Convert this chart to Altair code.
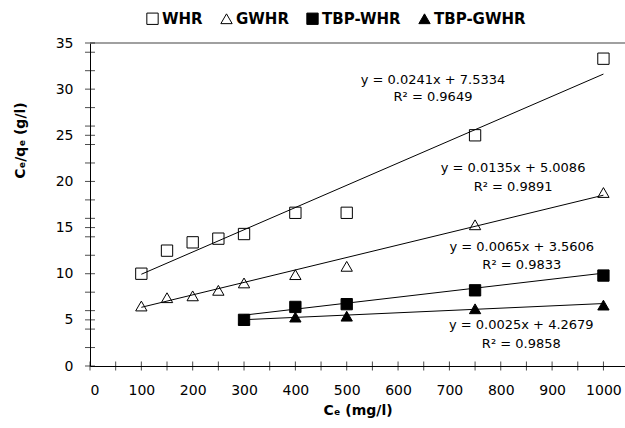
import altair as alt
import pandas as pd

# ---- data ----
series = ["WHR", "GWHR", "TBP-WHR", "TBP-GWHR"]

whr_x = [100, 150, 200, 250, 300, 400, 500, 750, 1000]
whr_y = [10.0, 12.5, 13.4, 13.8, 14.3, 16.6, 16.6, 25.0, 33.3]

gwhr_x = [100, 150, 200, 250, 300, 400, 500, 750, 1000]
gwhr_y = [6.5, 7.4, 7.6, 8.2, 9.0, 9.9, 10.8, 15.3, 18.8]

tbp_whr_x = [300, 400, 500, 750, 1000]
tbp_whr_y = [5.0, 6.4, 6.7, 8.2, 9.8]

tbp_gwhr_x = [300, 400, 500, 750, 1000]
tbp_gwhr_y = [5.0, 5.3, 5.4, 6.2, 6.6]

slopes = [0.0241, 0.0135, 0.0065, 0.0025]
intercepts = [7.5334, 5.0086, 3.5606, 4.2679]
r2_values = [0.9649, 0.9891, 0.9833, 0.9858]

# annotation anchors (data units)
label_x = [668, 824, 841, 840]
label_y_eq = [31.0, 21.45, 12.9, 4.44]
label_y_r2 = [29.1, 19.44, 10.94, 2.38]

x_tick_labels = list(range(0, 1001, 100))
y_tick_labels = list(range(0, 36, 5))
x_minor = list(range(0, 1001, 50))
y_minor = sorted(set(list(range(0, 36, 2)) + list(range(0, 36, 5))))

# ---- tables ----
xs_all = [whr_x, gwhr_x, tbp_whr_x, tbp_gwhr_x]
ys_all = [whr_y, gwhr_y, tbp_whr_y, tbp_gwhr_y]
rows = []
for s, xs, ys in zip(series, xs_all, ys_all):
    for a, b in zip(xs, ys):
        rows.append({"series": s, "x": a, "y": b})
pts = pd.DataFrame(rows)

trows = []
for s, xs, m, c in zip(series, xs_all, slopes, intercepts):
    for a in (min(xs), max(xs)):
        trows.append({"series": s, "x": a, "y": m * a + c})
trend = pd.DataFrame(trows)

lrows = []
for m, c, r, lx, ly1, ly2 in zip(slopes, intercepts, r2_values, label_x, label_y_eq, label_y_r2):
    lrows.append({"x": lx, "y": ly1, "t": f"y = {m:.4f}x + {c:.4f}"})
    lrows.append({"x": lx, "y": ly2, "t": f"R\u00b2 = {r:.4f}"})
labels = pd.DataFrame(lrows)

ytick_df = pd.DataFrame({"x": [0] * len(y_minor), "y": y_minor})
xtick_df = pd.DataFrame({"x": x_minor, "y": [0] * len(x_minor)})
top_df = pd.DataFrame({"y": [35]})

FONT = "DejaVu Sans"

xscale = alt.Scale(domain=[0, 1042], nice=False, zero=False)
yscale = alt.Scale(domain=[0, 35], nice=False, zero=False)

xaxis = alt.Axis(
    values=x_tick_labels, format="d", title="C\u2091  (mg/l)", grid=False, ticks=False, tickSize=0,
    labelFont=FONT, labelFontSize=14, labelColor="black", labelPadding=17,
    domainColor="black", domainWidth=1,
    titleFont=FONT, titleFontSize=14, titleFontWeight="bold", titleColor="black",
    titleY=44, titleBaseline="middle",
)
yaxis = alt.Axis(
    values=y_tick_labels, format="d", title="C\u2091/q\u2091  (g/l)", grid=False, ticks=False, tickSize=0,
    labelFont=FONT, labelFontSize=14, labelColor="black", labelPadding=17,
    domainColor="black", domainWidth=1,
    titleFont=FONT, titleFontSize=14, titleFontWeight="bold", titleColor="black",
    titleX=-70, titleY=97, titleAngle=270, titleAlign="center", titleBaseline="middle",
)


def X():
    return alt.X("x:Q", scale=xscale, axis=xaxis)


def Y():
    return alt.Y("y:Q", scale=yscale, axis=yaxis)


legend = alt.Legend(
    title=None, orient="none", legendX=55, legendY=-32, direction="horizontal",
    labelFont=FONT, labelFontSize=15, labelFontWeight="bold", labelColor="black",
    labelOffset=2, columnPadding=15, symbolStrokeColor="black", symbolStrokeWidth=1,
)

shape_scale = alt.Scale(domain=series, range=["square", "triangle-up", "square", "triangle-up"])
fill_scale = alt.Scale(domain=series, range=["rgba(255,255,255,0)", "rgba(255,255,255,0)", "black", "black"])
stroke_scale = alt.Scale(domain=series, range=["black", "black", "black", "black"])
size_scale = alt.Scale(domain=series, range=[128, 128, 256, 128])

top_rule = alt.Chart(top_df).mark_rule(color="#808080", strokeWidth=1.5).encode(y=Y())

lines = alt.Chart(trend).mark_line(color="black", strokeWidth=1).encode(
    x=X(), y=Y(), detail="series:N"
)

points = alt.Chart(pts).mark_point(
    filled=True, strokeWidth=1, opacity=1, fillOpacity=1, strokeOpacity=1
).encode(
    x=X(), y=Y(),
    shape=alt.Shape("series:N", scale=shape_scale, legend=legend),
    fill=alt.Fill("series:N", scale=fill_scale, legend=legend),
    stroke=alt.Stroke("series:N", scale=stroke_scale, legend=legend),
    size=alt.Size("series:N", scale=size_scale, legend=legend),
)

yticks = alt.Chart(ytick_df).mark_tick(orient="horizontal", size=10, thickness=1, color="black").encode(
    x=X(), y=Y()
)
xticks = alt.Chart(xtick_df).mark_tick(orient="vertical", size=9, thickness=1, color="black").encode(
    x=X(), y=Y()
)

texts = alt.Chart(labels).mark_text(
    font=FONT, fontSize=13, color="black", align="center", baseline="middle"
).encode(x=X(), y=Y(), text="t:N")

chart = alt.layer(top_rule, lines, yticks, xticks, points, texts).properties(
    width=535, height=323,
    autosize=alt.AutoSizeParams(type="none"),
    padding={"left": 90, "top": 43, "right": 0, "bottom": 62},
    background="white",
).configure_view(stroke=None)

chart.save("out.html", embed_options={"renderer": "svg", "actions": False})
